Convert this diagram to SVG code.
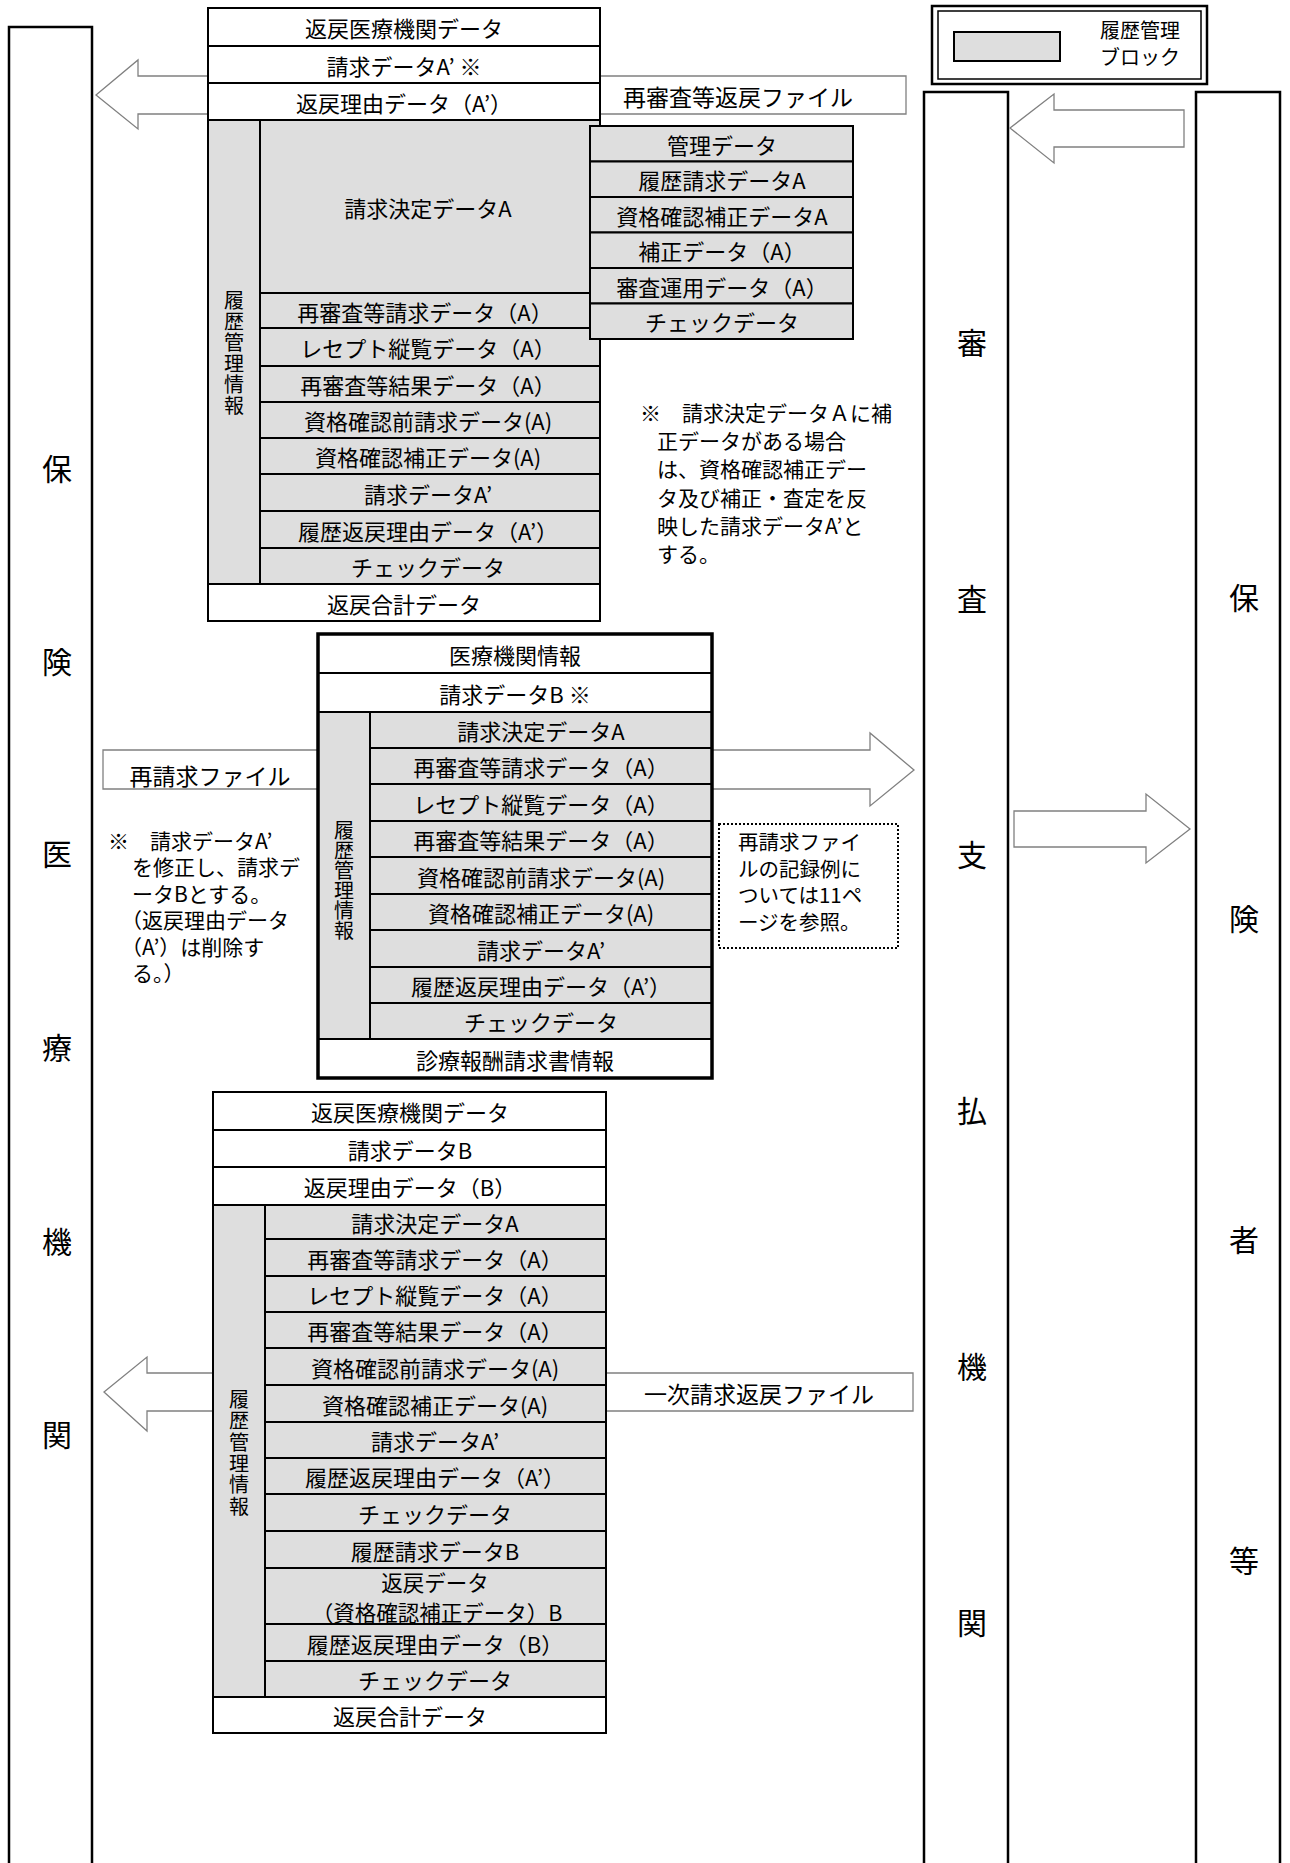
<svg xmlns="http://www.w3.org/2000/svg" width="1290" height="1863" viewBox="0 0 1290 1863">
<style>
.bx{fill:#fff;stroke:#000;stroke-width:2}
.gr{fill:#dedede;stroke:#000;stroke-width:2}
.col{fill:#fff;stroke:#000;stroke-width:2.5}
.ar{fill:#fff;stroke:#808080;stroke-width:1.3}
.t{font-family:"Noto Sans CJK JP",sans-serif;font-size:22px;text-anchor:middle;dominant-baseline:central;fill:#000}
.n{font-family:"Noto Sans CJK JP",sans-serif;font-size:21px;dominant-baseline:central;fill:#000}
.v{font-family:"Noto Sans CJK JP",sans-serif;font-size:20px;text-anchor:middle;writing-mode:vertical-rl;fill:#000}
.c{font-family:"Noto Sans CJK JP",sans-serif;font-size:30px;text-anchor:middle;dominant-baseline:central;fill:#000}
.lb{font-family:"Noto Sans CJK JP",sans-serif;font-size:23px;dominant-baseline:central;fill:#000}
</style>
<rect width="1290" height="1863" fill="#fff"/>

<g id="col-hokeniryokikan">
<rect class="col" x="9" y="27" width="83" height="1900"/>
<text class="c" x="57" y="467">保</text>
<text class="c" x="57" y="660">険</text>
<text class="c" x="57" y="852">医</text>
<text class="c" x="57" y="1046">療</text>
<text class="c" x="57" y="1240">機</text>
<text class="c" x="57" y="1433">関</text>
</g>
<g id="col-shinsashiharai">
<rect class="col" x="924" y="92" width="84" height="1900"/>
<text class="c" x="972" y="341">審</text>
<text class="c" x="972" y="597">査</text>
<text class="c" x="972" y="853">支</text>
<text class="c" x="972" y="1109">払</text>
<text class="c" x="972" y="1365">機</text>
<text class="c" x="972" y="1621">関</text>
</g>
<g id="col-hokensha">
<rect class="col" x="1196" y="92" width="84" height="1900"/>
<text class="c" x="1244" y="596">保</text>
<text class="c" x="1244" y="917">険</text>
<text class="c" x="1244" y="1238">者</text>
<text class="c" x="1244" y="1559">等</text>
</g>

<g id="legend">
<rect x="932" y="6" width="275" height="78" fill="#fff" stroke="#000" stroke-width="2.5"/>
<rect x="938" y="11" width="263" height="68" fill="none" stroke="#000" stroke-width="1.5"/>
<rect x="954" y="32" width="106" height="29" fill="#dedede" stroke="#000" stroke-width="2"/>
<text class="lb" style="font-size:20px"><tspan x="1100" y="28.5">履歴管理</tspan><tspan x="1100" y="55.5">ブロック</tspan></text>
</g>

<g id="connectors">
<polygon class="ar" points="96,95 138,60 138,76 906,76 906,114 138,114 138,129"/>
<polygon class="ar" points="1010,128 1054,94 1054,110 1184,110 1184,147 1054,147 1054,163"/>
<polygon class="ar" points="914,770 870,733 870,750 103,750 103,789 870,789 870,806"/>
<polygon class="ar" points="1190,829 1146,794 1146,811 1014,811 1014,847 1146,847 1146,863"/>
<polygon class="ar" points="104,1392 147,1357 147,1373 913,1373 913,1411 147,1411 147,1431"/>
<text class="lb" x="623" y="96">再審査等返戻ファイル</text>
<text class="lb" x="210" y="775" style="text-anchor:middle">再請求ファイル</text>
<text class="lb" x="759" y="1393" style="text-anchor:middle">一次請求返戻ファイル</text>
</g>

<g id="block-top">
<rect class="bx" x="208" y="8" width="392" height="38"/>
<rect class="bx" x="208" y="46" width="392" height="37"/>
<rect class="bx" x="208" y="83" width="392" height="37"/>
<rect class="gr" x="208" y="120" width="52" height="464"/>
<rect class="gr" x="260" y="120" width="340" height="173"/>
<rect class="gr" x="260" y="293" width="340" height="35"/>
<rect class="gr" x="260" y="328" width="340" height="38"/>
<rect class="gr" x="260" y="366" width="340" height="36"/>
<rect class="gr" x="260" y="402" width="340" height="36"/>
<rect class="gr" x="260" y="438" width="340" height="36"/>
<rect class="gr" x="260" y="474" width="340" height="37"/>
<rect class="gr" x="260" y="511" width="340" height="37"/>
<rect class="gr" x="260" y="548" width="340" height="36"/>
<rect class="bx" x="208" y="584" width="392" height="37"/>
<text class="t" x="404" y="27">返戻医療機関データ</text>
<text class="t" x="404" y="64.5">請求データA’ ※</text>
<text class="t" x="404" y="101.5">返戻理由データ（A’）</text>
<text class="t" x="428" y="207">請求決定データA</text>
<text class="t" x="425" y="310.5">再審査等請求データ（A）</text>
<text class="t" x="428" y="347">レセプト縦覧データ（A）</text>
<text class="t" x="428" y="384">再審査等結果データ（A）</text>
<text class="t" x="428" y="420">資格確認前請求データ(A)</text>
<text class="t" x="428" y="456">資格確認補正データ(A)</text>
<text class="t" x="428" y="492.5">請求データA’</text>
<text class="t" x="428" y="529.5">履歴返戻理由データ（A’）</text>
<text class="t" x="428" y="566">チェックデータ</text>
<text class="t" x="404" y="602.5">返戻合計データ</text>
<text class="v" x="234" y="353.5" style="letter-spacing:1px">履歴管理情報</text>
</g>

<g id="block-top-sub">
<rect class="gr" x="590" y="126" width="263" height="35.5"/>
<rect class="gr" x="590" y="161.5" width="263" height="35.5"/>
<rect class="gr" x="590" y="197" width="263" height="35.5"/>
<rect class="gr" x="590" y="232.5" width="263" height="35.5"/>
<rect class="gr" x="590" y="268" width="263" height="35.5"/>
<rect class="gr" x="590" y="303.5" width="263" height="35.5"/>
<text class="t" x="722" y="143.75">管理データ</text>
<text class="t" x="722" y="179.25">履歴請求データA</text>
<text class="t" x="722" y="214.75">資格確認補正データA</text>
<text class="t" x="722" y="250.25">補正データ（A）</text>
<text class="t" x="722" y="285.75">審査運用データ（A）</text>
<text class="t" x="722" y="321.25">チェックデータ</text>
</g>

<g id="note-top">
<text class="n" x="640" y="412">※　請求決定データＡに補</text>
<text class="n" x="657" y="440">正データがある場合</text>
<text class="n" x="657" y="468">は、資格確認補正デー</text>
<text class="n" x="657" y="497">タ及び補正・査定を反</text>
<text class="n" x="657" y="525">映した請求データA’と</text>
<text class="n" x="657" y="553">する。</text>
</g>

<g id="block-middle">
<rect class="bx" x="318" y="634" width="394" height="39"/>
<rect class="bx" x="318" y="673" width="394" height="39"/>
<rect class="gr" x="318" y="712" width="52" height="327"/>
<rect class="gr" x="370" y="712" width="342" height="36"/>
<rect class="gr" x="370" y="748" width="342" height="36"/>
<rect class="gr" x="370" y="784" width="342" height="37"/>
<rect class="gr" x="370" y="821" width="342" height="36"/>
<rect class="gr" x="370" y="857" width="342" height="37"/>
<rect class="gr" x="370" y="894" width="342" height="36"/>
<rect class="gr" x="370" y="930" width="342" height="37"/>
<rect class="gr" x="370" y="967" width="342" height="36"/>
<rect class="gr" x="370" y="1003" width="342" height="36"/>
<rect class="bx" x="318" y="1039" width="394" height="39"/>
<rect x="318" y="634" width="394" height="444" fill="none" stroke="#000" stroke-width="3.5"/>
<text class="t" x="515" y="653.5">医療機関情報</text>
<text class="t" x="515" y="692.5">請求データB ※</text>
<text class="t" x="541" y="730">請求決定データA</text>
<text class="t" x="541" y="766">再審査等請求データ（A）</text>
<text class="t" x="541" y="802.5">レセプト縦覧データ（A）</text>
<text class="t" x="541" y="839">再審査等結果データ（A）</text>
<text class="t" x="541" y="875.5">資格確認前請求データ(A)</text>
<text class="t" x="541" y="912">資格確認補正データ(A)</text>
<text class="t" x="541" y="948.5">請求データA’</text>
<text class="t" x="541" y="985">履歴返戻理由データ（A’）</text>
<text class="t" x="541" y="1021">チェックデータ</text>
<text class="t" x="515" y="1058.5">診療報酬請求書情報</text>
<text class="v" x="344" y="880">履歴管理情報</text>
</g>

<g id="note-middle">
<text class="n" x="108" y="840">※　請求データA’</text>
<text class="n" x="132" y="866.4">を修正し、請求デ</text>
<text class="n" x="132" y="892.8">ータBとする。</text>
<text class="n" x="121" y="919.2">（返戻理由データ</text>
<text class="n" x="121" y="945.6">（A’）は削除す</text>
<text class="n" x="132" y="972">る。）</text>
</g>

<g id="note-dotted">
<rect x="719" y="824" width="179" height="124" fill="#fff" stroke="#000" stroke-width="2" stroke-dasharray="2,2"/>
<text class="n" x="738" y="841" style="font-size:20.5px">再請求ファイ</text>
<text class="n" x="738" y="867.5" style="font-size:20.5px">ルの記録例に</text>
<text class="n" x="738" y="894" style="font-size:20.5px">ついては11ペ</text>
<text class="n" x="738" y="920.5" style="font-size:20.5px">ージを参照。</text>
</g>

<g id="block-bottom">
<rect class="bx" x="213" y="1092" width="393" height="38"/>
<rect class="bx" x="213" y="1130" width="393" height="37"/>
<rect class="bx" x="213" y="1167" width="393" height="38"/>
<rect class="gr" x="213" y="1205" width="52" height="492"/>
<rect class="gr" x="265" y="1205" width="341" height="34"/>
<rect class="gr" x="265" y="1239" width="341" height="37"/>
<rect class="gr" x="265" y="1276" width="341" height="36"/>
<rect class="gr" x="265" y="1312" width="341" height="36"/>
<rect class="gr" x="265" y="1348" width="341" height="37"/>
<rect class="gr" x="265" y="1385" width="341" height="37"/>
<rect class="gr" x="265" y="1422" width="341" height="36"/>
<rect class="gr" x="265" y="1458" width="341" height="36"/>
<rect class="gr" x="265" y="1494" width="341" height="37"/>
<rect class="gr" x="265" y="1531" width="341" height="37"/>
<rect class="gr" x="265" y="1568" width="341" height="56"/>
<rect class="gr" x="265" y="1624" width="341" height="37"/>
<rect class="gr" x="265" y="1661" width="341" height="36"/>
<rect class="bx" x="213" y="1697" width="393" height="36"/>
<text class="t" x="410" y="1111">返戻医療機関データ</text>
<text class="t" x="410" y="1148.5">請求データB</text>
<text class="t" x="410" y="1186">返戻理由データ（B）</text>
<text class="t" x="435" y="1222">請求決定データA</text>
<text class="t" x="435" y="1257.5">再審査等請求データ（A）</text>
<text class="t" x="435" y="1294">レセプト縦覧データ（A）</text>
<text class="t" x="435" y="1330">再審査等結果データ（A）</text>
<text class="t" x="435" y="1366.5">資格確認前請求データ(A)</text>
<text class="t" x="435" y="1403.5">資格確認補正データ(A)</text>
<text class="t" x="435" y="1440">請求データA’</text>
<text class="t" x="435" y="1476">履歴返戻理由データ（A’）</text>
<text class="t" x="435" y="1512.5">チェックデータ</text>
<text class="t" x="435" y="1549.5">履歴請求データB</text>
<text class="t" style="font-size:21.5px"><tspan x="435" y="1581">返戻データ</tspan><tspan x="437" y="1610.5">（資格確認補正データ）B</tspan></text>
<text class="t" x="435" y="1642.5">履歴返戻理由データ（B）</text>
<text class="t" x="435" y="1679">チェックデータ</text>
<text class="t" x="410" y="1715">返戻合計データ</text>
<text class="v" x="239" y="1453.5" style="letter-spacing:1.4px">履歴管理情報</text>
</g>
</svg>
